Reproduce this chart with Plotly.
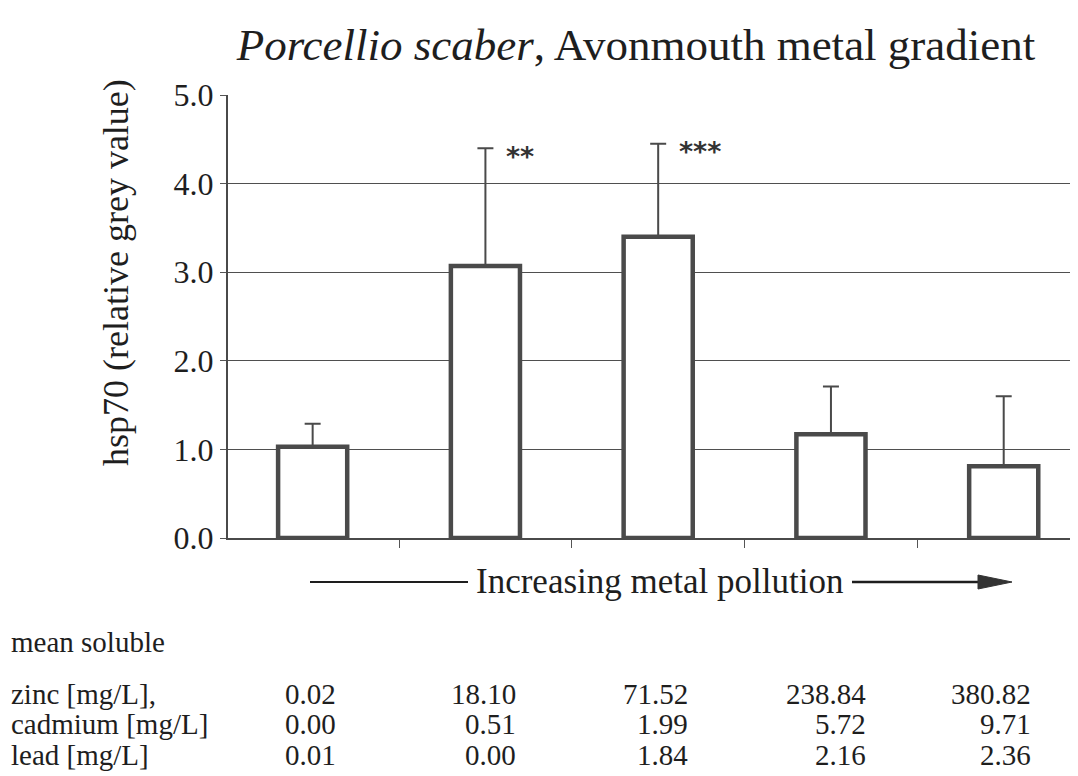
import plotly.graph_objects as go

# hsp70 relative grey value per site
hsp70 = [1.03, 3.07, 3.40, 1.17, 0.81]
sd_plus = [0.26, 1.33, 1.05, 0.54, 0.79]
signif = ["", "**", "***", "", ""]

# mean soluble metals per site
metal_names = ["zinc [mg/L],", "cadmium [mg/L]", "lead [mg/L]"]
zinc = ["0.02", "18.10", "71.52", "238.84", "380.82"]
cadmium = ["0.00", "0.51", "1.99", "5.72", "9.71"]
lead = ["0.01", "0.00", "1.84", "2.16", "2.36"]

ytick_vals = [0, 1, 2, 3, 4, 5]
ytick_text = ["0.0", "1.0", "2.0", "3.0", "4.0", "5.0"]

FONT = "Liberation Serif, Times New Roman, serif"
INK = "#1e1e1e"
EDGE = "#4a4a4a"

# page is 1078x776, the html body adds an 8px margin
OFF = 8
W, H = 1078 - OFF, 776 - OFF
L, R, T, B = 228 - OFF, 0, 95 - OFF, H - (538 - OFF)


def px(x):
    # page pixel -> paper x
    return (x - OFF - L) / (W - L - R)


def py(y):
    # page pixel -> paper y
    return (H - B - (y - OFF)) / (H - T - B)


sites = list(range(len(hsp70)))

fig = go.Figure()

fig.add_trace(go.Bar(
    x=sites,
    y=hsp70,
    width=0.4,
    marker=dict(color="white", line=dict(color=EDGE, width=4.5)),
    error_y=dict(
        type="data",
        symmetric=False,
        array=sd_plus,
        arrayminus=[0] * len(sd_plus),
        color=EDGE,
        thickness=2,
        width=8
    ),
    showlegend=False
))

# significance stars
for i, s in enumerate(signif):
    if s:
        fig.add_annotation(
            x=i + 0.11, y=hsp70[i] + sd_plus[i],
            text="<b>" + s + "</b>", showarrow=False,
            xanchor="left", yanchor="middle", yshift=-8,
            font=dict(family="DejaVu Sans", size=27, color="#333333")
        )

# y axis title
fig.add_annotation(
    xref="paper", yref="paper",
    x=px(116), y=py(272),
    text="hsp70 (relative grey value)", showarrow=False,
    textangle=-90, xanchor="center", yanchor="middle",
    font=dict(family=FONT, size=36, color=INK)
)

# arrow under the chart
fig.add_shape(
    type="line", xref="paper", yref="paper",
    x0=px(310), x1=px(468), y0=py(582), y1=py(582),
    line=dict(color=INK, width=2)
)
fig.add_shape(
    type="line", xref="paper", yref="paper",
    x0=px(852), x1=px(985), y0=py(582), y1=py(582),
    line=dict(color=INK, width=2.5)
)
fig.add_shape(
    type="path", xref="paper", yref="paper",
    path="M {} {} L {} {} L {} {} Z".format(
        px(978), py(575), px(1012), py(582), px(978), py(589)
    ),
    fillcolor="#333333", line=dict(color="#333333", width=1)
)
fig.add_annotation(
    xref="paper", yref="paper",
    x=px(659), y=py(581),
    text="Increasing metal pollution", showarrow=False,
    xanchor="center", yanchor="middle",
    font=dict(family=FONT, size=35, color=INK)
)

# metal table
fig.add_annotation(
    xref="paper", yref="paper",
    x=px(9), y=py(642),
    text="mean soluble", showarrow=False,
    xanchor="left", yanchor="middle",
    font=dict(family=FONT, size=29, color=INK)
)
col_right = [338, 518, 690, 868, 1033]
row_y = [694, 724, 755]
for r, (name, vals) in enumerate(zip(metal_names, [zinc, cadmium, lead])):
    fig.add_annotation(
        xref="paper", yref="paper",
        x=px(9), y=py(row_y[r]),
        text=name, showarrow=False,
        xanchor="left", yanchor="middle",
        font=dict(family=FONT, size=29, color=INK)
    )
    for c, v in enumerate(vals):
        fig.add_annotation(
            xref="paper", yref="paper",
            x=px(col_right[c]), y=py(row_y[r]),
            text=v, showarrow=False,
            xanchor="right", yanchor="middle",
            font=dict(family=FONT, size=29, color=INK)
        )

fig.update_layout(
    width=W,
    height=H,
    paper_bgcolor="white",
    plot_bgcolor="white",
    font=dict(family=FONT, color=INK),
    margin=dict(l=L, r=R, t=T, b=B),
    title=dict(
        text="<i>Porcellio scaber</i>, Avonmouth metal gradient",
        x=(636 - OFF) / W, y=1 - (44 - OFF) / H,
        xanchor="center", yanchor="middle",
        font=dict(family=FONT, size=45, color=INK)
    )
)

fig.update_xaxes(
    range=[-0.49, 4.43],
    tickvals=[-0.5, 0.5, 1.5, 2.5, 3.5],
    ticktext=["", "", "", "", ""],
    ticks="outside",
    ticklen=8,
    tickcolor="#555555",
    showgrid=False,
    showline=True,
    linecolor=EDGE,
    linewidth=2,
    zeroline=False
)

fig.update_yaxes(
    range=[0, 5],
    tickvals=ytick_vals,
    ticktext=ytick_text,
    ticks="outside",
    ticklen=6,
    tickcolor="#555555",
    tickfont=dict(family=FONT, size=32, color=INK),
    showgrid=True,
    gridcolor="#4f4f4f",
    gridwidth=1.3,
    showline=True,
    linecolor=EDGE,
    linewidth=2,
    zeroline=False
)

fig.write_html("out.html")
